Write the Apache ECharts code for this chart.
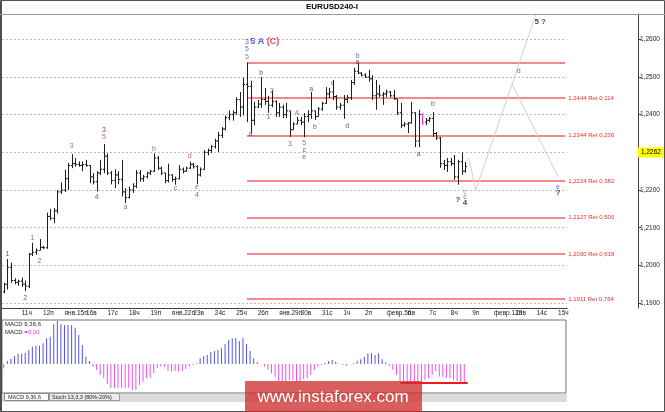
<!DOCTYPE html>
<html lang="ru" style="height: 100%">
<head>
    <meta charset="UTF-8">
    <title>EURUSD240-I</title>
    <script src="https://cdn.jsdelivr.net/npm/echarts@6/dist/echarts.min.js"></script>
</head>
<body style="margin: 0; height: 100%; background: #fff">
<div id="main" style="width: 665px; height: 412px"></div>
<script>
    // H4 bars, 10 Jan 04:00 .. 8 Feb (one row = 10 bars)
    var opens = [
        1.1930, 1.1950, 1.1995, 1.1960, 1.1955, 1.1958, 1.1950, 1.1945, 1.2030, 1.2035,
        1.2040, 1.2048, 1.2047, 1.2130, 1.2125, 1.2145, 1.2195, 1.2200, 1.2230, 1.2265,
        1.2270, 1.2268, 1.2265, 1.2268, 1.2265, 1.2235, 1.2222, 1.2245, 1.2255, 1.2290,
        1.2245, 1.2225, 1.2240, 1.2228, 1.2195, 1.2180, 1.2200, 1.2210, 1.2245, 1.2230,
        1.2235, 1.2245, 1.2250, 1.2285, 1.2258, 1.2245, 1.2225, 1.2240, 1.2228, 1.2230,
        1.2255, 1.2250, 1.2258, 1.2268, 1.2262, 1.2240, 1.2255, 1.2300, 1.2305, 1.2315,
        1.2330, 1.2345, 1.2362, 1.2392, 1.2400, 1.2405, 1.2440, 1.2420, 1.2480, 1.2475,
        1.2385, 1.2420, 1.2428, 1.2440, 1.2435, 1.2425, 1.2435, 1.2405, 1.2420, 1.2400,
        1.2410, 1.2360, 1.2375, 1.2385, 1.2380, 1.2395, 1.2400, 1.2410, 1.2395, 1.2415,
        1.2430, 1.2455, 1.2460, 1.2448, 1.2420, 1.2425, 1.2440, 1.2445, 1.2485, 1.2515,
        1.2510, 1.2505, 1.2500, 1.2495, 1.2450, 1.2455, 1.2452, 1.2455, 1.2460, 1.2450,
        1.2442, 1.2405, 1.2372, 1.2375, 1.2378, 1.2405, 1.2330, 1.2400, 1.2380, 1.2385,
        1.2390, 1.2350, 1.2338, 1.2270, 1.2265, 1.2275, 1.2270, 1.2235, 1.2275, 1.2250
    ];
    var highs = [
        1.1954, 1.2017, 1.2007, 1.1966, 1.1962, 1.1968, 1.1960, 1.2033, 1.2060, 1.2045,
        1.2070, 1.2052, 1.2140, 1.2150, 1.2152, 1.2200, 1.2220, 1.2254, 1.2272, 1.2295,
        1.2285, 1.2276, 1.2276, 1.2280, 1.2266, 1.2245, 1.2250, 1.2280, 1.2322, 1.2297,
        1.2250, 1.2255, 1.2250, 1.2280, 1.2205, 1.2209, 1.2218, 1.2253, 1.2253, 1.2240,
        1.2249, 1.2253, 1.2297, 1.2290, 1.2262, 1.2246, 1.2270, 1.2242, 1.2236, 1.2266,
        1.2260, 1.2262, 1.2275, 1.2272, 1.2266, 1.2260, 1.2306, 1.2310, 1.2319, 1.2336,
        1.2354, 1.2367, 1.2398, 1.2411, 1.2411, 1.2446, 1.2460, 1.2498, 1.2538, 1.2490,
        1.2434, 1.2439, 1.2500, 1.2471, 1.2450, 1.2465, 1.2438, 1.2431, 1.2426, 1.2431,
        1.2410, 1.2380, 1.2394, 1.2394, 1.2404, 1.2412, 1.2460, 1.2410, 1.2420, 1.2434,
        1.2473, 1.2471, 1.2492, 1.2452, 1.2431, 1.2452, 1.2452, 1.2492, 1.2524, 1.2537,
        1.2513, 1.2510, 1.2519, 1.2505, 1.2492, 1.2479, 1.2460, 1.2466, 1.2463, 1.2466,
        1.2442, 1.2431, 1.2380, 1.2380, 1.2434, 1.2406, 1.2413, 1.2404, 1.2391, 1.2394,
        1.2407, 1.2354, 1.2341, 1.2280, 1.2285, 1.2285, 1.2293, 1.2280, 1.2299, 1.2275
    ];
    var lows = [
        1.1926, 1.1936, 1.1954, 1.1950, 1.1946, 1.1943, 1.1932, 1.1940, 1.2025, 1.2028,
        1.2040, 1.2043, 1.2044, 1.2120, 1.2112, 1.2138, 1.2190, 1.2195, 1.2200, 1.2258,
        1.2262, 1.2262, 1.2250, 1.2262, 1.2218, 1.2215, 1.2196, 1.2240, 1.2245, 1.2240,
        1.2215, 1.2205, 1.2215, 1.2183, 1.2165, 1.2178, 1.2192, 1.2205, 1.2222, 1.2222,
        1.2231, 1.2240, 1.2248, 1.2253, 1.2240, 1.2218, 1.2220, 1.2222, 1.2214, 1.2228,
        1.2244, 1.2248, 1.2256, 1.2257, 1.2215, 1.2236, 1.2253, 1.2292, 1.2298, 1.2310,
        1.2301, 1.2338, 1.2358, 1.2385, 1.2384, 1.2400, 1.2394, 1.2398, 1.2380, 1.2352,
        1.2372, 1.2418, 1.2418, 1.2426, 1.2405, 1.2420, 1.2394, 1.2394, 1.2391, 1.2391,
        1.2341, 1.2360, 1.2375, 1.2372, 1.2340, 1.2380, 1.2389, 1.2386, 1.2395, 1.2410,
        1.2428, 1.2444, 1.2439, 1.2413, 1.2413, 1.2389, 1.2431, 1.2439, 1.2479, 1.2508,
        1.2501, 1.2497, 1.2487, 1.2439, 1.2413, 1.2447, 1.2426, 1.2447, 1.2447, 1.2439,
        1.2399, 1.2364, 1.2367, 1.2351, 1.2376, 1.2314, 1.2314, 1.2372, 1.2372, 1.2380,
        1.2341, 1.2333, 1.2259, 1.2253, 1.2248, 1.2264, 1.2227, 1.2214, 1.2240, 1.2246
    ];
    var closes = [
        1.1950, 1.1995, 1.1960, 1.1955, 1.1958, 1.1950, 1.1945, 1.2030, 1.2035, 1.2040,
        1.2048, 1.2047, 1.2130, 1.2125, 1.2145, 1.2195, 1.2200, 1.2230, 1.2265, 1.2270,
        1.2268, 1.2265, 1.2268, 1.2265, 1.2235, 1.2222, 1.2245, 1.2255, 1.2290, 1.2245,
        1.2225, 1.2240, 1.2228, 1.2195, 1.2180, 1.2200, 1.2210, 1.2245, 1.2230, 1.2235,
        1.2245, 1.2250, 1.2285, 1.2258, 1.2245, 1.2225, 1.2240, 1.2228, 1.2230, 1.2255,
        1.2250, 1.2258, 1.2268, 1.2262, 1.2240, 1.2255, 1.2300, 1.2305, 1.2315, 1.2330,
        1.2345, 1.2362, 1.2392, 1.2400, 1.2405, 1.2440, 1.2420, 1.2480, 1.2475, 1.2385,
        1.2420, 1.2428, 1.2440, 1.2435, 1.2425, 1.2435, 1.2405, 1.2420, 1.2400, 1.2410,
        1.2360, 1.2375, 1.2385, 1.2380, 1.2395, 1.2400, 1.2410, 1.2395, 1.2415, 1.2430,
        1.2455, 1.2460, 1.2448, 1.2420, 1.2425, 1.2440, 1.2445, 1.2485, 1.2515, 1.2510,
        1.2505, 1.2500, 1.2495, 1.2450, 1.2455, 1.2452, 1.2455, 1.2460, 1.2450, 1.2442,
        1.2405, 1.2372, 1.2375, 1.2378, 1.2405, 1.2330, 1.2400, 1.2380, 1.2385, 1.2390,
        1.2350, 1.2338, 1.2270, 1.2265, 1.2275, 1.2270, 1.2235, 1.2275, 1.2250, 1.2262
    ];
    // MACD 9,36,6 histogram, same bars
    var macd = [
        -0.00043, 0.00030, 0.00050, 0.00080, 0.00103, 0.00103, 0.00113, 0.00140, 0.00173, 0.00183,
        0.00183, 0.00207, 0.00257, 0.00273, 0.00397, 0.00430, 0.00397, 0.00390, 0.00390, 0.00390,
        0.00363, 0.00290, 0.00190, 0.00073, 0.00030, -0.00027, -0.00060, -0.00110, -0.00143, -0.00203,
        -0.00237, -0.00243, -0.00243, -0.00243, -0.00237, -0.00237, -0.00260, -0.00260, -0.00210, -0.00183,
        -0.00143, -0.00137, -0.00093, -0.00043, -0.00027, -0.00027, -0.00070, -0.00077, -0.00070, -0.00077,
        -0.00070, -0.00050, -0.00027, -0.00010, 0.00007, 0.00057, 0.00080, 0.00090, 0.00117, 0.00130,
        0.00140, 0.00157, 0.00197, 0.00240, 0.00257, 0.00257, 0.00230, 0.00257, 0.00197, 0.00130,
        0.00057, 0.00017, -0.00003, -0.00027, -0.00060, -0.00093, -0.00127, -0.00170, -0.00170, -0.00177,
        -0.00160, -0.00160, -0.00170, -0.00177, -0.00150, -0.00143, -0.00110, -0.00060, -0.00027, -0.00010,
        0.00010, 0.00030, 0.00040, 0.00023, 0.00003, -0.00010, -0.00017, -0.00003, 0.00007, 0.00033,
        0.00047, 0.00073, 0.00107, 0.00107, 0.00090, 0.00107, 0.00047, 0.00017, -0.00017, -0.00060,
        -0.00110, -0.00170, -0.00183, -0.00183, -0.00183, -0.00183, -0.00170, -0.00170, -0.00160, -0.00143,
        -0.00110, -0.00070, -0.00127, -0.00127, -0.00137, -0.00143, -0.00160, -0.00170, -0.00183, -0.00183
    ];
    var macdFloor = [[111, -0.0019], [130, -0.0019]];

    var dayLabels = ['11ч', '12п', 'янв.15п', '16в', '17с', '18ч', '19п', 'янв.22п', '23в', '24с',
        '25ч', '26п', 'янв.29п', '30в', '31с', '1ч', '2п', 'февр.5п', '6в', '7с',
        '8ч', '9п', 'февр.12п', '13в', '14с', '15ч'];
    var firstDaySlot = 5, barsPerDay = 6, slotCount = 158;

    var priceTicks = [1.19, 1.20, 1.21, 1.22, 1.23, 1.24, 1.25, 1.26];
    var fibLevels = [1.2538, 1.2444, 1.2344, 1.2224, 1.2127, 1.2030, 1.1911];
    var fibRatios = ['', '0,114', '0,236', '0,382', '0,500', '0,618', '0,764'];
    var fibStart = 68;
    var markedBar = 117;

    // projected path: wave 4 low -> 5 ?, and d -> e
    var pathUp = [[130, 1.2285], [132, 1.2200], [150, 1.2700]];
    var pathDown = [[142, 1.2484], [155, 1.2235]];

    var K = '#333333', R = '#b83a3a', B = '#3636f0', N = '#a0552a', G = '#8a8a8a';
    var waveLabels = [
        [1, 1.2031, '1', K], [6, 1.1914, '2', K], [8, 1.2073, '1', R], [10, 1.2012, '2', R],
        [19, 1.2317, '3', R], [26, 1.2182, '4', K], [28, 1.2359, '3', K], [28, 1.2341, '5', R],
        [34, 1.2155, 'a', R], [42, 1.2309, 'b', R], [48, 1.2206, 'c', R], [52, 1.2290, 'd', R],
        [54, 1.2209, 'e', R], [54, 1.2187, '4', B],
        [68, 1.2593, '3', K], [68, 1.2574, '5', B], [68, 1.2553, '5', N],
        [69, 1.2349, 'a', K], [72, 1.2511, 'b', K], [74, 1.2394, '1', R], [75, 1.2463, '2', R],
        [80, 1.2322, '3', R], [82, 1.2404, '4', R], [84, 1.2324, '5', R], [84, 1.2306, 'c', K],
        [84, 1.2288, 'e', B], [86, 1.2468, 'a', K], [87, 1.2367, 'b', K], [92, 1.2484, 'c', K],
        [96, 1.2370, 'd', K], [99, 1.2556, 'b', B], [99, 1.2539, 'e', K],
        [116, 1.2296, 'a', K], [120, 1.2428, 'b', K],
        [129, 1.2195, 'c', G], [129, 1.2182, 'c', B],
        [144, 1.2516, 'd', B], [155, 1.2209, 'e', B]
    ];
    var boldLabels = [
        [127, 1.2174, '?'], [129, 1.2166, '4'], [150, 1.2646, '5 ?'], [155, 1.2192, '?']
    ];

    function fmt(v) {
        return v.toFixed(4).replace('.', ',');
    }
    function isDayStart(idx) {
        var k = (idx - firstDaySlot) / barsPerDay;
        return idx >= firstDaySlot && k === Math.floor(k) && k < dayLabels.length;
    }

    var slots = [];
    for (var s = 0; s < slotCount; s++) slots.push(String(s));

    var bars = opens.map(function (o, i) {
        return [i, o, highs[i], lows[i], closes[i]];
    });
    var lastClose = closes[closes.length - 1];

    function drawBar(params, api) {
        var i = api.value(0);
        var hi = api.coord([i, api.value(2)]);
        var lo = api.coord([i, api.value(3)]);
        var op = api.coord([i, api.value(1)]);
        var cl = api.coord([i, api.value(4)]);
        var x = Math.round(hi[0]) + 0.5;
        var col = i === markedBar ? '#ff33ff' : '#1e1e1e';
        return {
            type: 'group',
            children: [
                {type: 'line', shape: {x1: x, y1: hi[1], x2: x, y2: lo[1]}, style: {stroke: col, lineWidth: 1}},
                {type: 'line', shape: {x1: x - 1.6, y1: op[1], x2: x, y2: op[1]}, style: {stroke: col, lineWidth: 1}},
                {type: 'line', shape: {x1: x, y1: cl[1], x2: x + 1.6, y2: cl[1]}, style: {stroke: col, lineWidth: 1}}
            ]
        };
    }

    var labelData = waveLabels.map(function (w) {
        return {value: [w[0], w[1]], name: w[2], label: {color: w[3]}};
    });
    boldLabels.forEach(function (w) {
        labelData.push({value: [w[0], w[1]], name: w[2],
            label: {color: '#222', fontWeight: 'bold', fontSize: 8}});
    });
    labelData.push({value: [73, 1.2593], name: '5 A (C)',
        label: {formatter: '{bl|5 A }{rd|(C)}'}});

    var fibLines = fibLevels.map(function (v, k) {
        return [{coord: [fibStart, v], name: fibRatios[k] ? fmt(v) + ' Ret ' + fibRatios[k] : ''},
            {coord: [slotCount - 1, v]}];
    });

    var font = 'Liberation Sans';
    var myoption = {
        animation: false,
        backgroundColor: '#ffffff',
        textStyle: {fontFamily: font},
        grid: [
            {left: 2, right: 98, top: 14, height: 294},
            {left: 2, right: 99, top: 320, height: 73, show: true,
                borderColor: '#707070', borderWidth: 1, backgroundColor: '#ffffff'}
        ],
        xAxis: [{
            type: 'category', gridIndex: 0, data: slots, boundaryGap: true,
            axisLine: {lineStyle: {color: '#404040'}},
            axisTick: {interval: isDayStart, length: 3, lineStyle: {color: '#404040'}},
            axisLabel: {
                interval: isDayStart, align: 'left', margin: 2, fontSize: 6.5, color: '#222',
                fontFamily: font, hideOverlap: false,
                formatter: function (val, idx) {
                    return dayLabels[(idx - firstDaySlot) / barsPerDay];
                }
            },
            splitLine: {show: false}
        }, {
            type: 'category', gridIndex: 1, data: slots, boundaryGap: true,
            axisLine: {show: false}, axisTick: {show: false}, axisLabel: {show: false}
        }],
        yAxis: [{
            type: 'value', gridIndex: 0, position: 'right', offset: 71,
            min: 1.1887, max: 1.2667,
            axisLine: {show: true, lineStyle: {color: '#404040'}},
            axisTick: {show: true, length: 3, customValues: priceTicks, lineStyle: {color: '#404040'}},
            axisLabel: {customValues: priceTicks, formatter: fmt, fontSize: 6.5, color: '#222',
                margin: 2, fontFamily: font},
            splitLine: {show: false}
        }, {
            type: 'value', gridIndex: 1, min: -0.0029, max: 0.0044, show: false,
            splitLine: {show: false}
        }],
        series: [{
            name: 'path up',
            type: 'line', xAxisIndex: 0, yAxisIndex: 0, data: pathUp,
            symbol: 'none', z: 2,
            lineStyle: {color: '#d8ccd4', width: 1},
            markLine: {
                silent: true, z: 1, symbol: ['none', 'none'], animation: false,
                label: {show: false},
                lineStyle: {color: '#bdb4c6', type: [2, 2], width: 1},
                data: priceTicks.map(function (v) { return {yAxis: v}; })
            }
        }, {
            name: 'path down',
            type: 'line', xAxisIndex: 0, yAxisIndex: 0, data: pathDown,
            symbol: 'none', z: 2,
            lineStyle: {color: '#d8ccd4', width: 1},
            markLine: {
                silent: true, z: 2, symbol: ['none', 'none'], animation: false,
                lineStyle: {color: '#f26262', type: 'solid', width: 1.5},
                label: {show: true, position: 'end', distance: 3, formatter: '{b}',
                    color: '#e53030', fontSize: 6, fontFamily: font},
                data: fibLines
            }
        }, {
            name: 'EURUSD',
            type: 'custom', xAxisIndex: 0, yAxisIndex: 0, z: 3,
            renderItem: drawBar,
            encode: {x: 0, y: [1, 2, 3, 4]},
            data: bars,
            markLine: {
                silent: true, z: 4, symbol: ['none', 'none'], animation: false,
                lineStyle: {color: 'rgba(0,0,0,0)', width: 0.1},
                label: {show: true, position: 'end', distance: 71, formatter: '{b}',
                    color: '#000', fontSize: 6.5, fontFamily: font, opacity: 1,
                    backgroundColor: '#ffff00', padding: [2, 4, 1, 3]},
                data: [{yAxis: lastClose, name: fmt(lastClose)}]
            }
        }, {
            name: 'waves',
            type: 'scatter', xAxisIndex: 0, yAxisIndex: 0, z: 4,
            symbolSize: 1, itemStyle: {color: 'rgba(0,0,0,0)'}, silent: true,
            label: {
                show: true, position: 'inside', formatter: '{b}', fontSize: 7, fontFamily: font,
                rich: {
                    bl: {color: '#2a2aff', fontWeight: 'bold', fontSize: 9, fontFamily: font},
                    rd: {color: '#e02020', fontWeight: 'bold', fontSize: 9, fontFamily: font}
                }
            },
            data: labelData
        }, {
            name: 'MACD',
            type: 'bar', xAxisIndex: 1, yAxisIndex: 1, barWidth: 1,
            itemStyle: {
                color: function (p) { return p.value >= 0 ? '#5252ee' : '#f050f0'; }
            },
            data: macd
        }, {
            name: 'MACD floor',
            type: 'line', xAxisIndex: 1, yAxisIndex: 1, data: macdFloor,
            symbol: 'none', z: 3,
            lineStyle: {color: '#ee1c1c', width: 2}
        }],
        graphic: [
            {type: 'rect', silent: true, z: 100, shape: {x: 0.5, y: 0.5, width: 664, height: 411},
                style: {fill: 'none', stroke: '#505050', lineWidth: 1}},
            {type: 'line', silent: true, z: 100, shape: {x1: 1.5, y1: 0, x2: 1.5, y2: 412},
                style: {stroke: '#505050', lineWidth: 1}},
            {type: 'line', silent: true, z: 100, shape: {x1: 0, y1: 14.5, x2: 665, y2: 14.5},
                style: {stroke: '#9a9a9a', lineWidth: 1}},
            {type: 'text', silent: true, z: 100, x: 332, y: 7,
                style: {text: 'EURUSD240-I', font: 'bold 8px "Liberation Sans"', fill: '#000',
                    align: 'center', verticalAlign: 'middle', textAlign: 'center', textVerticalAlign: 'middle'}},
            {type: 'text', silent: true, z: 100, x: 5, y: 324,
                style: {text: 'MACD 9,36,6', font: '6px "Liberation Sans"', fill: '#222',
                    verticalAlign: 'middle', textVerticalAlign: 'middle'}},
            {type: 'text', silent: true, z: 100, x: 5, y: 332,
                style: {text: 'MACD =', font: '6px "Liberation Sans"', fill: '#222',
                    verticalAlign: 'middle', textVerticalAlign: 'middle'}},
            {type: 'text', silent: true, z: 100, x: 28, y: 332,
                style: {text: '0,00', font: '6px "Liberation Sans"', fill: '#ff33ff',
                    verticalAlign: 'middle', textVerticalAlign: 'middle'}},
            {type: 'rect', silent: true, z: 90, shape: {x: 2, y: 394, width: 565, height: 8},
                style: {fill: '#dcdcdc'}},
            {type: 'rect', silent: true, z: 91, shape: {x: 4.5, y: 393.5, width: 44, height: 7},
                style: {fill: '#ffffff', stroke: '#8a8a8a', lineWidth: 1}},
            {type: 'text', silent: true, z: 92, x: 8, y: 397.5,
                style: {text: 'MACD 9,36,6', font: '5.5px "Liberation Sans"', fill: '#222',
                    verticalAlign: 'middle', textVerticalAlign: 'middle'}},
            {type: 'rect', silent: true, z: 91, shape: {x: 49.5, y: 393.5, width: 70, height: 7},
                style: {fill: '#ececec', stroke: '#9a9a9a', lineWidth: 1}},
            {type: 'text', silent: true, z: 92, x: 52, y: 397.5,
                style: {text: 'Stoch 13,3,3 (80%-20%)', font: '5.5px "Liberation Sans"', fill: '#222',
                    verticalAlign: 'middle', textVerticalAlign: 'middle'}},
            {type: 'rect', silent: true, z: 120, shape: {x: 245, y: 381, width: 177, height: 31},
                style: {fill: 'rgba(208, 44, 44, 0.76)'}},
            {type: 'text', silent: true, z: 121, x: 333, y: 397,
                style: {text: 'www.instaforex.com', font: '17px "Liberation Sans"', fill: '#ffffff',
                    align: 'center', verticalAlign: 'middle', textAlign: 'center', textVerticalAlign: 'middle'}}
        ]
    };

    var myChart = echarts.init(document.getElementById('main'));
    myChart.setOption(myoption);
</script>
</body>
</html>
